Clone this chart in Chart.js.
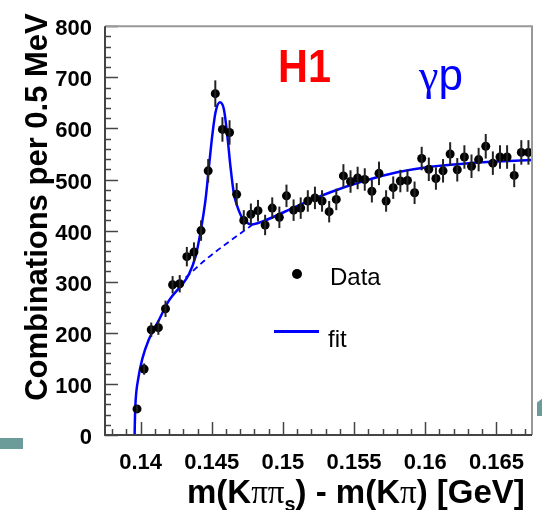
<!DOCTYPE html>
<html lang="en">
<head>
    <meta charset="UTF-8">
    <title>D* mass difference</title>
    <style>
        body { margin: 0; background: #fff; }
        #wrap { position: relative; width: 542px; height: 510px; overflow: hidden; font-family: "Liberation Sans", Arial, sans-serif; }
        #wrap canvas { position: absolute; left: 0; top: 0; }
        .txt { position: absolute; white-space: nowrap; line-height: 1; }
        .sym { font-family: "Liberation Serif", "DejaVu Serif", serif; font-weight: normal; }
    </style>
</head>
<body>
<div id="wrap">
    <canvas id="c" width="542" height="510"></canvas>
    <div class="txt" style="left:278px; top:43px; font-size:46px; font-weight:bold; color:#ff0000; transform:scaleX(0.9); transform-origin:left top;">H1</div>
    <div class="txt" style="left:419px; top:53px; font-size:44px; color:#0000ff;"><span class="sym">γ</span>p</div>
    <div class="txt" style="left:330px; top:265px; font-size:24px; color:#000;">Data</div>
    <div class="txt" style="left:328px; top:327px; font-size:24px; color:#000;">fit</div>
    <div style="position:absolute; left:292px; top:269px; width:10px; height:10px; border-radius:50%; background:#000;"></div>
    <div style="position:absolute; left:274px; top:330px; width:45px; height:3px; background:#0000ff;"></div>
    <div class="txt" style="left:-173px; top:192px; width:420px; text-align:center; font-size:31px; line-height:30px; font-weight:bold; transform:rotate(-90deg);">Combinations per 0.5 MeV</div>
    <div class="txt" style="left:187px; top:475px; font-size:33px; line-height:33px; font-weight:bold;">m(K<span class="sym">ππ</span><sub style="font-size:60%; line-height:0;">s</sub>) - m(K<span class="sym">π</span>) [GeV]</div>
    <div style="position:absolute; left:0; top:438px; width:23px; height:11px; background:#6b9c9a;"></div>
    <div style="position:absolute; left:537px; top:398px; width:6px; height:18px; background:#6b9c9a; clip-path:polygon(0 25%, 100% 0, 100% 100%, 0 100%);"></div>
</div>
<script src="https://cdn.jsdelivr.net/npm/chart.js"></script>
<script>
    // bin centres (GeV), 0.5 MeV bins
    const binX = [
        0.13975, 0.14025, 0.14075, 0.14125, 0.14175, 0.14225, 0.14275, 0.14325,
        0.14375, 0.14425, 0.14475, 0.14525, 0.14575, 0.14625, 0.14675, 0.14725,
        0.14775, 0.14825, 0.14875, 0.14925, 0.14975, 0.15025, 0.15075, 0.15125,
        0.15175, 0.15225, 0.15275, 0.15325, 0.15375, 0.15425, 0.15475, 0.15525,
        0.15575, 0.15625, 0.15675, 0.15725, 0.15775, 0.15825, 0.15875, 0.15925,
        0.15975, 0.16025, 0.16075, 0.16125, 0.16175, 0.16225, 0.16275, 0.16325,
        0.16375, 0.16425, 0.16475, 0.16525, 0.16575, 0.16625, 0.16675, 0.16725
    ];
    const counts = [
        51, 129, 206, 210, 247, 294, 296, 349,
        358, 400, 517, 668, 598, 592, 471, 420,
        432, 439, 411, 444, 426, 468, 440, 444,
        458, 464, 458, 437, 461, 507, 496, 503,
        500, 477, 512, 458, 484, 497, 498, 474,
        541, 520, 502, 517, 550, 519, 544, 526,
        539, 565, 532, 544, 544, 508, 553, 553
    ];
    const countErr = [
        7, 11, 14, 14, 16, 17, 17, 19,
        19, 20, 23, 26, 24, 24, 22, 20,
        21, 21, 20, 21, 21, 22, 21, 21,
        21, 22, 21, 21, 21, 23, 22, 22,
        22, 22, 23, 21, 22, 22, 22, 22,
        23, 23, 22, 23, 23, 23, 23, 23,
        23, 24, 23, 23, 23, 23, 24, 24
    ];

    // fit curve (signal + background)
    const fitX = [0.13958, 0.13961, 0.13965, 0.13984, 0.14012, 0.14058, 0.14129, 0.14199, 0.14293, 0.14339,
        0.14386, 0.14421, 0.14456, 0.1448, 0.14504, 0.14527, 0.14557, 0.14585, 0.14609, 0.14632,
        0.14655, 0.14679, 0.14714, 0.14761, 0.1478, 0.14866, 0.151, 0.15334, 0.15568, 0.15803,
        0.16037, 0.16271, 0.16505, 0.16753];
    const fitY = [0, 40, 67, 111, 149, 187, 225, 263, 295, 314,
        349, 397, 460, 524, 587, 632, 651, 638, 587, 524,
        473, 448, 425, 413, 412, 419, 448, 475, 497, 514,
        525, 531, 535, 538];
    // background only, under the peak
    const bgX = [0.14316, 0.14456, 0.1462, 0.14784];
    const bgY = [308, 343, 378, 411];

    const xTicks = [0.14, 0.145, 0.15, 0.155, 0.16, 0.165];
    const yTicks = [0, 100, 200, 300, 400, 500, 600, 700, 800];

    const toPts = (xs, ys) => xs.map((x, i) => ({ x: x, y: ys[i] }));

    const frameAndTicks = {
        id: 'frameAndTicks',
        afterDatasetsDraw(chart) {
            const ctx = chart.ctx;
            const a = chart.chartArea;
            const xs = chart.scales.x, ys = chart.scales.y;
            ctx.save();
            // error bars
            ctx.strokeStyle = '#222';
            ctx.lineWidth = 2;
            binX.forEach((x, i) => {
                const px = xs.getPixelForValue(x);
                ctx.beginPath();
                ctx.moveTo(px, ys.getPixelForValue(counts[i] - countErr[i]));
                ctx.lineTo(px, ys.getPixelForValue(counts[i] + countErr[i]));
                ctx.stroke();
            });
            // ticks, pointing inwards
            ctx.strokeStyle = '#444';
            ctx.lineWidth = 1.5;
            for (let v = 0; v <= 800; v += 20) {
                const py = Math.round(ys.getPixelForValue(v)) + 0.5;
                const len = v % 100 === 0 ? 13 : 6;
                ctx.beginPath();
                ctx.moveTo(a.left, py);
                ctx.lineTo(a.left + len, py);
                ctx.stroke();
            }
            for (let k = Math.ceil(xs.min * 1000); k <= Math.floor(xs.max * 1000); k++) {
                const px = Math.round(xs.getPixelForValue(k / 1000)) + 0.5;
                const len = k % 5 === 0 ? 13 : 6;
                ctx.beginPath();
                ctx.moveTo(px, a.bottom);
                ctx.lineTo(px, a.bottom - len);
                ctx.stroke();
            }
            // frame
            ctx.lineWidth = 2;
            ctx.strokeStyle = '#999';
            ctx.beginPath();
            ctx.moveTo(a.left, a.top);
            ctx.lineTo(a.right, a.top);
            ctx.lineTo(a.right, a.bottom);
            ctx.stroke();
            ctx.strokeStyle = '#444';
            ctx.beginPath();
            ctx.moveTo(a.left, a.top);
            ctx.lineTo(a.left, a.bottom);
            ctx.lineTo(a.right, a.bottom);
            ctx.stroke();
            ctx.restore();
        }
    };

    new Chart(document.getElementById('c'), {
        type: 'scatter',
        data: {
            datasets: [
                {
                    label: 'Data',
                    data: toPts(binX, counts),
                    backgroundColor: '#000',
                    borderWidth: 0,
                    pointRadius: 4.5,
                    order: 0
                },
                {
                    label: 'fit',
                    data: toPts(fitX, fitY),
                    showLine: true,
                    borderColor: '#0000ff',
                    borderWidth: 2.5,
                    pointRadius: 0,
                    cubicInterpolationMode: 'monotone',
                    order: 1
                },
                {
                    label: 'background',
                    data: toPts(bgX, bgY),
                    showLine: true,
                    borderColor: '#0000ff',
                    borderWidth: 1.8,
                    borderDash: [6, 4],
                    pointRadius: 0,
                    cubicInterpolationMode: 'monotone',
                    order: 2
                }
            ]
        },
        options: {
            responsive: false,
            animation: false,
            layout: { padding: { left: 0, top: 15, right: 10, bottom: 0 } },
            plugins: { legend: { display: false }, tooltip: { enabled: false } },
            scales: {
                x: {
                    type: 'linear',
                    min: 0.1375,
                    max: 0.1675,
                    afterFit(s) { s.height = 75; },
                    afterBuildTicks(s) { s.ticks = xTicks.map(v => ({ value: v })); },
                    grid: { display: false, drawTicks: false },
                    border: { display: false },
                    ticks: {
                        padding: 15,
                        color: '#000',
                        maxRotation: 0,
                        font: { family: 'Liberation Sans', size: 22, weight: 'bold' },
                        callback: v => String(+v.toFixed(3))
                    }
                },
                y: {
                    min: 0,
                    max: 800,
                    afterFit(s) { s.width = 105; },
                    afterBuildTicks(s) { s.ticks = yTicks.map(v => ({ value: v })); },
                    grid: { display: false, drawTicks: false },
                    border: { display: false },
                    ticks: {
                        padding: 13,
                        labelOffset: 3,
                        color: '#000',
                        font: { family: 'Liberation Sans', size: 22, weight: 'bold' }
                    }
                }
            }
        },
        plugins: [frameAndTicks]
    });
</script>
</body>
</html>
